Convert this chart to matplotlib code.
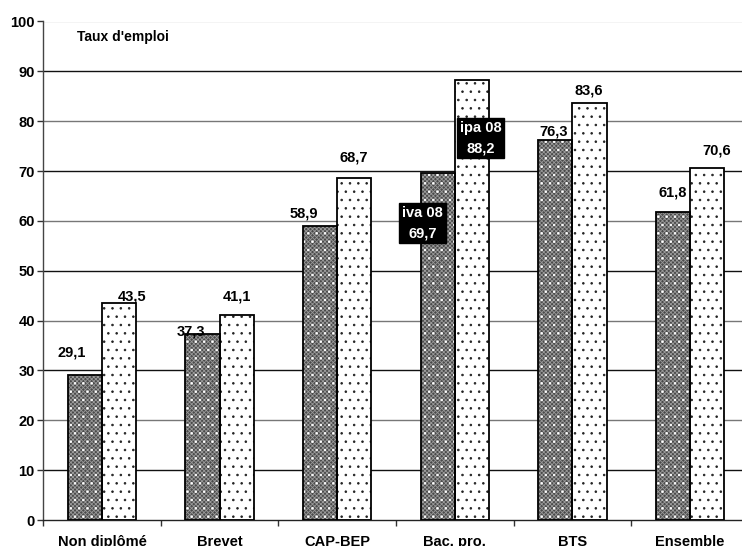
import numpy as np
import matplotlib
matplotlib.use('Agg')
import matplotlib.pyplot as plt

plt.rcParams['font.family'] = ['Liberation Sans', 'DejaVu Sans']
plt.rcParams['font.weight'] = 'bold'
plt.rcParams['hatch.linewidth'] = 0.6

# data
categories = ['Non diplômé', 'Brevet', 'CAP-BEP', 'Bac. pro.', 'BTS', 'Ensemble']
series_names = ['iva 08', 'ipa 08']
iva = [29.1, 37.3, 58.9, 69.7, 76.3, 61.8]
ipa = [43.5, 41.1, 68.7, 88.2, 83.6, 70.6]
y_ticks = [0, 10, 20, 30, 40, 50, 60, 70, 80, 90, 100]

# label placement (offset from category centre, and label height)
iva_lab_dx = [-0.26, -0.24, -0.28, -0.275, -0.16, -0.15]
iva_lab_y = [33.7, 37.9, 61.4, 59.5, 77.9, 65.7]
ipa_lab_dx = [0.255, 0.145, 0.14, 0.22, 0.14, 0.23]
ipa_lab_y = [44.9, 44.9, 72.8, 76.6, 86.2, 74.2]
boxed = 3  # Bac. pro. labels shown with the series name

W, H = 742, 546
fig = plt.figure(figsize=(W / 100, H / 100), dpi=100)
ax = fig.add_axes([43.2 / W, (H - 520) / H, 705.6 / W, 498.5 / H])

x = np.arange(len(categories))
bw = 0.29

# grid lines (alternate dark / grey as in the scan)
for t in y_ticks[1:]:
    if t == 100:
        c = '#c8c8c8'
    elif (t // 10) % 2 == 1:
        c = '#111111'
    else:
        c = '#777777'
    ax.axhline(t, color=c, lw=1.0, zorder=1)

# dark bars : grey checker with white dots
ax.bar(x - bw / 2, iva, bw, color='#4a4a4a', lw=0, zorder=2)
ax.bar(x - bw / 2, iva, bw, color='none', edgecolor='#9a9a9a', hatch='xxxxxxxx', lw=0, zorder=3)
ax.bar(x - bw / 2, iva, bw, color='none', edgecolor='white', hatch='..', lw=0, zorder=4)
ax.bar(x - bw / 2, iva, bw, color='none', edgecolor='black', lw=1.3, zorder=5)

# light bars : white with black dots
ax.bar(x + bw / 2, ipa, bw, color='white', lw=0, zorder=2)
ax.bar(x + bw / 2, ipa, bw, color='none', edgecolor='#222222', hatch='..', lw=0, zorder=3)
ax.bar(x + bw / 2, ipa, bw, color='none', edgecolor='black', lw=1.3, zorder=5)

def fmt(v):
    return ('%.1f' % v).replace('.', ',')

for i in range(len(categories)):
    for vals, dx, ly, name in ((iva, iva_lab_dx, iva_lab_y, series_names[0]),
                               (ipa, ipa_lab_dx, ipa_lab_y, series_names[1])):
        if i == boxed:
            ax.text(x[i] + dx[i], ly[i], name + '\n' + fmt(vals[i]), ha='center', va='center',
                    color='white', fontsize=10.5, fontweight='bold', linespacing=1.55, zorder=7,
                    bbox=dict(boxstyle='square,pad=0.2', fc='black', ec='black'))
        else:
            ax.text(x[i] + dx[i], ly[i], fmt(vals[i]), ha='center', va='center',
                    color='black', fontsize=10.5, fontweight='bold', zorder=7)

ax.text(0.048, 0.969, "Taux d'emploi", transform=ax.transAxes, ha='left', va='center',
        fontsize=10, fontweight='bold', zorder=7)

ax.set_xlim(-0.5, 5.5)
ax.set_ylim(0, 100)
ax.set_yticks(y_ticks)
ax.set_yticklabels([str(t) for t in y_ticks], fontsize=10.5, fontweight='bold')
ax.set_xticks(x)
ax.set_xticklabels(categories, fontsize=10.5, fontweight='bold')
ax.set_xticks(np.arange(-0.5, 6, 1), minor=True)
ax.tick_params(axis='x', which='major', length=0, pad=11)
ax.tick_params(axis='x', which='minor', length=4, width=1, color='#333333', direction='out')
ax.tick_params(axis='y', length=4, width=1, color='#333333', direction='out', pad=2)

for s in ('top', 'right'):
    ax.spines[s].set_visible(False)
ax.spines['left'].set_color('#444444')
ax.spines['bottom'].set_color('#222222')
ax.spines['left'].set_linewidth(1.0)
ax.spines['bottom'].set_linewidth(1.0)
ax.set_axisbelow(True)

fig.savefig('out.png', dpi=100)
